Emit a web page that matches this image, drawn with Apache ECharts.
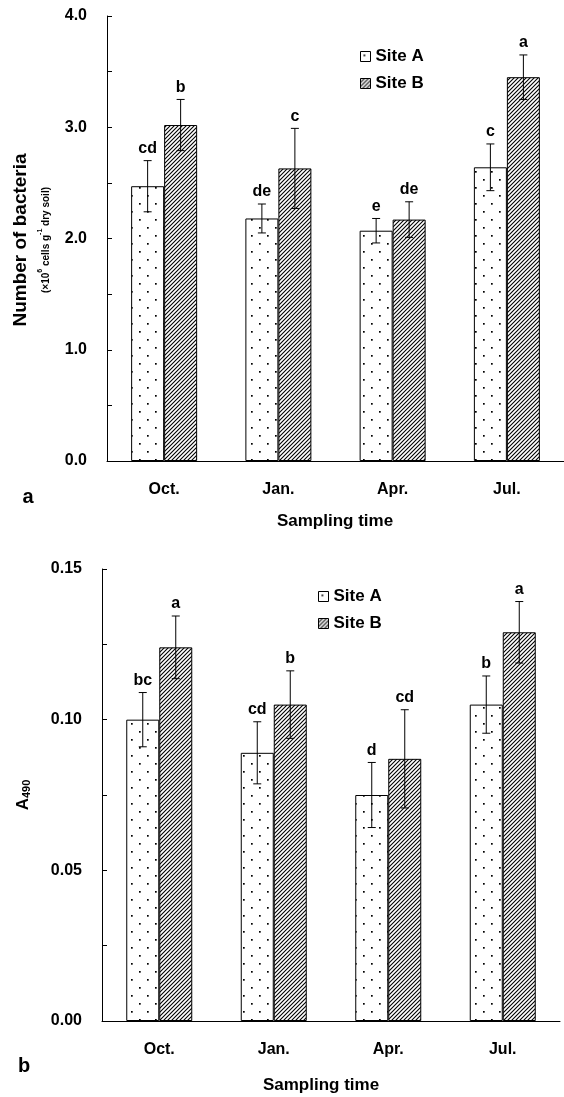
<!DOCTYPE html>
<html>
<head>
<meta charset="utf-8">
<script src="https://cdn.jsdelivr.net/npm/echarts@6/dist/echarts.min.js"></script>
<style>
  html, body { margin: 0; padding: 0; background: #fff; }
  #main { width: 564px; height: 1097px; }
</style>
</head>
<body>
<div id="main"></div>
<script>
// sampling months
var months = ['Oct.', 'Jan.', 'Apr.', 'Jul.'];

// panel a: bacteria number (x10^6 cells g-1 dry soil)
var bactA = [2.47, 2.18, 2.07, 2.64];
var bactErrA = [0.23, 0.13, 0.11, 0.21];
var bactLblA = ['cd', 'de', 'e', 'c'];
var bactB = [3.02, 2.63, 2.17, 3.45];
var bactErrB = [0.23, 0.36, 0.16, 0.20];
var bactLblB = ['b', 'c', 'de', 'a'];

// panel b: A490
var absA = [0.100, 0.089, 0.075, 0.105];
var absErrA = [0.009, 0.0103, 0.0108, 0.0095];
var absLblA = ['bc', 'cd', 'd', 'b'];
var absB = [0.124, 0.105, 0.087, 0.129];
var absErrB = [0.0104, 0.0112, 0.0163, 0.0102];
var absLblB = ['a', 'b', 'cd', 'a'];

var FONT = '"Liberation Sans", Arial, sans-serif';
var BAR_W = 33;

// fill patterns
function dotPattern() {
  var c = document.createElement('canvas');
  c.width = 16; c.height = 16;
  var ctx = c.getContext('2d');
  ctx.fillStyle = '#fff';
  ctx.fillRect(0, 0, 16, 16);
  ctx.fillStyle = '#000';
  ctx.fillRect(3, 3, 1.7, 1.7);
  ctx.fillRect(11, 11, 1.7, 1.7);
  return c;
}
function hatchPattern() {
  var c = document.createElement('canvas');
  c.width = 4; c.height = 4;
  var ctx = c.getContext('2d');
  ctx.fillStyle = '#fff';
  ctx.fillRect(0, 0, 4, 4);
  ctx.strokeStyle = '#000';
  ctx.lineWidth = 1.1;
  ctx.beginPath();
  ctx.moveTo(-1, 5); ctx.lineTo(5, -1);
  ctx.moveTo(-1, 1); ctx.lineTo(1, -1);
  ctx.moveTo(3, 5); ctx.lineTo(5, 3);
  ctx.stroke();
  return c;
}
var fillA = { image: dotPattern(), repeat: 'repeat' };
var fillB = { image: hatchPattern(), repeat: 'repeat' };

function errData(means, errs, lbls) {
  var out = [];
  for (var i = 0; i < means.length; i++) {
    out.push([i, means[i], errs[i], lbls[i]]);
  }
  return out;
}

function errSeries(xi, means, errs, lbls, shift) {
  return {
    type: 'custom',
    xAxisIndex: xi,
    yAxisIndex: xi,
    z: 5,
    silent: true,
    data: errData(means, errs, lbls),
    renderItem: function (params, api) {
      var idx = api.value(0), m = api.value(1), e = api.value(2);
      var lbl = lbls[params.dataIndex];
      var hi = api.coord([idx, m + e]);
      var lo = api.coord([idx, m - e]);
      var x = hi[0] + shift;
      var cap = 4;
      var st = { stroke: '#000', lineWidth: 1 };
      return {
        type: 'group',
        children: [
          { type: 'line', shape: { x1: x, y1: hi[1], x2: x, y2: lo[1] }, style: st },
          { type: 'line', shape: { x1: x - cap, y1: hi[1], x2: x + cap, y2: hi[1] }, style: st },
          { type: 'line', shape: { x1: x - cap, y1: lo[1], x2: x + cap, y2: lo[1] }, style: st },
          {
            type: 'text',
            x: x, y: hi[1] - 4,
            style: {
              text: lbl, fill: '#000', font: 'bold 16px ' + FONT,
              align: 'center', verticalAlign: 'bottom'
            }
          }
        ]
      };
    }
  };
}

function barSeries(name, xi, data, fill) {
  return {
    name: name,
    type: 'bar',
    xAxisIndex: xi,
    yAxisIndex: xi,
    data: data,
    barWidth: BAR_W,
    barGap: '0%',
    itemStyle: { color: fill, borderColor: '#000', borderWidth: 1 },
    emphasis: { disabled: true }
  };
}

var axisLbl = { color: '#000', fontFamily: FONT, fontWeight: 'bold', fontSize: 16 };

var chart = echarts.init(document.getElementById('main'));
var option = {
  animation: false,
  backgroundColor: '#fff',
  legend: [
    {
      data: ['Site A', 'Site B'],
      left: 355, top: 43,
      orient: 'vertical',
      itemWidth: 10, itemHeight: 10, itemGap: 10,
      icon: 'rect',
      selectedMode: false,
      textStyle: { color: '#000', fontFamily: FONT, fontWeight: 'bold', fontSize: 17 },
      itemStyle: { borderColor: '#000', borderWidth: 1 }
    },
    {
      data: ['Site A ', 'Site B '],
      left: 313, top: 583,
      orient: 'vertical',
      itemWidth: 10, itemHeight: 10, itemGap: 10,
      icon: 'rect',
      selectedMode: false,
      textStyle: { color: '#000', fontFamily: FONT, fontWeight: 'bold', fontSize: 17 },
      itemStyle: { borderColor: '#000', borderWidth: 1 }
    }
  ],
  grid: [
    { left: 107, top: 16, width: 460, height: 445 },
    { left: 102, top: 569, width: 458, height: 452 }
  ],
  xAxis: [0, 1].map(function (g) {
    return {
      type: 'category',
      gridIndex: g,
      data: months,
      axisLine: { lineStyle: { color: '#000', width: 1 } },
      axisTick: { inside: true, length: 5, lineStyle: { color: '#000' } },
      axisLabel: Object.assign({ margin: 21 }, axisLbl)
    };
  }),
  yAxis: [
    {
      type: 'value', gridIndex: 0, min: 0, max: 4, interval: 0.5,
      axisLine: { show: true, lineStyle: { color: '#000' } },
      axisTick: { show: true, inside: true, length: 5, lineStyle: { color: '#000' } },
      splitLine: { show: false },
      axisLabel: Object.assign({
        margin: 20,
        formatter: function (v) { return (Math.abs(v % 1) < 1e-9) ? v.toFixed(1) : ''; }
      }, axisLbl)
    },
    {
      type: 'value', gridIndex: 1, min: 0, max: 0.15, interval: 0.025,
      axisLine: { show: true, lineStyle: { color: '#000' } },
      axisTick: { show: true, inside: true, length: 5, lineStyle: { color: '#000' } },
      splitLine: { show: false },
      axisLabel: Object.assign({
        margin: 20,
        formatter: function (v) {
          var k = Math.round(v / 0.025);
          return k % 2 === 0 ? v.toFixed(2) : '';
        }
      }, axisLbl)
    }
  ],
  graphic: [
    {
      type: 'text', x: 21, y: 240, rotation: Math.PI / 2,
      style: {
        text: 'Number of bacteria', fill: '#000', font: 'bold 19px ' + FONT,
        align: 'center', verticalAlign: 'middle'
      }
    },
    {
      type: 'text', x: 44, y: 240, rotation: Math.PI / 2,
      style: {
        text: '{n|(×10}{s|6}{n| cells g}{s|-1}{n| dry soil)}',
        align: 'center', verticalAlign: 'middle',
        rich: {
          n: { fontFamily: FONT, fontWeight: 'bold', fontSize: 10, fill: '#000', verticalAlign: 'bottom', lineHeight: 14 },
          s: { fontFamily: FONT, fontWeight: 'bold', fontSize: 7, fill: '#000', verticalAlign: 'top', lineHeight: 14 }
        }
      }
    },
    {
      type: 'text', x: 28, y: 497,
      style: { text: 'a', fill: '#000', font: 'bold 20px ' + FONT, align: 'center', verticalAlign: 'middle' }
    },
    {
      type: 'text', x: 335, y: 521,
      style: { text: 'Sampling time', fill: '#000', font: 'bold 17px ' + FONT, align: 'center', verticalAlign: 'middle' }
    },
    {
      type: 'text', x: 22, y: 795, rotation: Math.PI / 2,
      style: {
        text: '{a|A}{s|490}',
        align: 'center', verticalAlign: 'middle',
        rich: {
          a: { fontFamily: FONT, fontWeight: 'bold', fontSize: 17, fill: '#000', verticalAlign: 'bottom', lineHeight: 20 },
          s: { fontFamily: FONT, fontWeight: 'bold', fontSize: 11, fill: '#000', verticalAlign: 'bottom', lineHeight: 17 }
        }
      }
    },
    {
      type: 'text', x: 24, y: 1066,
      style: { text: 'b', fill: '#000', font: 'bold 20px ' + FONT, align: 'center', verticalAlign: 'middle' }
    },
    {
      type: 'text', x: 321, y: 1085,
      style: { text: 'Sampling time', fill: '#000', font: 'bold 17px ' + FONT, align: 'center', verticalAlign: 'middle' }
    }
  ],
  series: [
    barSeries('Site A', 0, bactA, fillA),
    barSeries('Site B', 0, bactB, fillB),
    barSeries('Site A ', 1, absA, fillA),
    barSeries('Site B ', 1, absB, fillB),
    errSeries(0, bactA, bactErrA, bactLblA, -BAR_W / 2),
    errSeries(0, bactB, bactErrB, bactLblB, BAR_W / 2),
    errSeries(1, absA, absErrA, absLblA, -BAR_W / 2),
    errSeries(1, absB, absErrB, absLblB, BAR_W / 2)
  ]
};
chart.setOption(option);
</script>
</body>
</html>
